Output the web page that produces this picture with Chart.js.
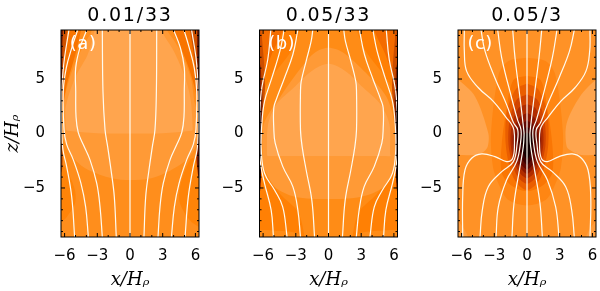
<!DOCTYPE html>
<html>
<head>
<meta charset="utf-8">
<style>
  html, body { margin: 0; padding: 0; background: #fff; }
  .panel { position: absolute; top: 0; width: 200px; height: 291px; }
</style>
<script src="https://cdn.jsdelivr.net/npm/chart.js@4"></script>
</head>
<body>
<div class="panel" style="left:0"><canvas id="chartA"></canvas></div>
<div class="panel" style="left:200px"><canvas id="chartB"></canvas></div>
<div class="panel" style="left:400px"><canvas id="chartC"></canvas></div>
<script>
const panelTitles = ['0.01/33', '0.05/33', '0.05/3'];
const panelLetters = ['(a)', '(b)', '(c)'];
const xTicks = [-6, -3, 0, 3, 6];
const zTicks = [-5, 0, 5];
const xMinorTicks = [-5, -4, -2, -1, 1, 2, 4, 5];
const zMinorTicks = [-9, -8, -7, -6, -4, -3, -2, -1, 1, 2, 3, 4, 6, 7, 8, 9];

// field lines, panel a (x and z of each line)
const aLineX = [
  [-5.08, -5.35, -5.81, -6.15, -6.27, -6.28, -6.2, -6.0, -5.6],
  [-3.82, -4.07, -4.5, -5.2, -5.81, -6.05, -6.12, -5.85, -5.3, -4.8],
  [-2.54, -2.75, -3.05, -3.67, -4.28, -4.75, -4.95, -4.98, -4.98, -4.59, -3.97],
  [-1.26, -1.44, -1.74, -2.05, -2.29, -2.48, -2.54],
  [0, 0],
  [1.28, 1.44, 1.74, 2.05, 2.29, 2.42, 2.45],
  [2.57, 2.75, 3.05, 3.67, 4.28, 4.75, 4.95, 4.98, 4.98, 4.62, 4.0],
  [3.8, 4.07, 4.5, 5.2, 5.81, 6.05, 6.12, 5.9, 5.4, 4.95],
  [5.05, 5.35, 5.81, 6.15, 6.27, 6.28, 6.22, 6.05, 5.65]
];
const aLineZ = [
  [-9.5, -5.8, -3.04, -1.5, 0.34, 3.5, 5, 7, 9.5],
  [-9.5, -6.73, -4.57, -2.42, -1.0, 0.34, 3.87, 6, 8, 9.5],
  [-9.5, -6.73, -4.57, -2.42, -1.04, 0.1, 1.5, 3.87, 6.05, 7.87, 9.5],
  [-9.5, -5.8, -3.35, -1.2, 0.34, 3.87, 9.5],
  [-9.5, 9.5],
  [-9.5, -5.8, -3.35, -1.2, 0.34, 3.87, 9.5],
  [-9.5, -6.73, -4.57, -2.42, -1.04, 0.1, 1.5, 3.87, 6.05, 7.87, 9.5],
  [-9.5, -6.73, -4.57, -2.42, -1.0, 0.34, 3.87, 6, 8, 9.5],
  [-9.5, -5.8, -3.04, -1.5, 0.34, 3.5, 5, 7, 9.5]
];

// filled contour bands, panel a, back to front (points past the frame get clipped)
const aBandX = [
  [-7, 7, 7, -7, -7],
  [-7, -6.33, -5.8, -5.05, -5.05, -5.8, -6.33, -7],
  [7, 6.33, 5.5, 4.59, 4.59, 5.5, 6.33, 7],
  [-7, -6.2, -5.05, -3.82, -1.68, 0, 1.96, 3.79, 5.32, 6.24, 7, 6.0, 5.6, 4.9, 4.0, 3.4, 3.2, -3.4, -3.5, -4.3, -5.4, -6.05, -6.1, -7],
  [-5.85, -5.9, -5.0, -3.9, -3.25, -3.2, 3, 2.9, 4.0, 5.0, 5.55, 5.75, 5.6, 3, 0, -3, -5.7, -5.85],
  [-7, -6.33, -5.75, -5.0, -4.5, -4.4, -7],
  [7, 6.33, 6.0, 5.4, 4.6, 3.9, 3.8, 7],
  [-7, -6.33, -6.15, -5.95, -5.75, -5.7, -7],
  [7, 6.33, 6.1, 5.8, 5.5, 5.4, 7],
  [-7, -6.33, -6.22, -6.2, -6.2, -7],
  [7, 6.33, 6.2, 6.15, 6.15, 6.15, 7],
  [-7, -6.33, -6.18, -6.33, -7],
  [7, 6.33, 6.1, 6.2, 6.33, 7]
];
const aBandZ = [
  [-11, -11, 11, 11, -11],
  [-2.6, -2.74, -3.35, -5.2, -6.43, -7.66, -8.12, -8.2],
  [-2.0, -2.12, -2.43, -4.89, -6.43, -7.97, -8.58, -8.7],
  [0.3, -0.5, -2.42, -3.35, -4.1, -4.27, -4.1, -3.35, -2.3, -0.9, 0, 2.6, 5.0, 7.0, 8.6, 9.5, 11, 11, 9.5, 8.0, 5.5, 3.0, 1.5, 0.3],
  [0.35, 2.4, 5.2, 7.2, 9.5, 11, 11, 9.5, 7.6, 5.3, 3.2, 0.35, 0.25, 0.03, 0, 0.03, 0.25, 0.35],
  [2, 2.2, 4.7, 7.3, 9.5, 11, 11],
  [1.8, 2, 3.9, 6.0, 8.0, 9.5, 11, 11],
  [2.5, 2.6, 4.4, 7.0, 9.5, 11, 11],
  [3, 3.2, 5.2, 7.6, 9.5, 11, 11],
  [3.5, 3.6, 6.0, 8.0, 11, 11],
  [3, 3, 5.0, 6.6, 9.5, 11, 11],
  [-0.8, -0.8, -2.2, -3.6, -3.6],
  [-0.2, -0.2, -2.0, -3.4, -4.0, -4.0]
];
const aBandFill = ['#FF8E1C', '#FF8408', '#FF8408', '#FF9A36', '#FFA54E', '#F87400', '#F87400', '#CF5200', '#CF5200', '#7C1C00', '#7C1C00', '#C24A00', '#801800'];

// panel b
const bLineX = [
  [-5.05, -5.26, -5.87, -6.24, -6.33, -6.3, -6.12, -5.57, -5.29],
  [-3.8, -4.2, -4.95, -5.87, -6.17, -6.12, -5.87, -5.2, -4.46, -4.07],
  [-2.57, -2.81, -3.27, -4.19, -4.89, -5.02, -5.02, -4.8, -4.04, -3.27, -2.81],
  [-1.28, -1.53, -2.05, -2.42, -2.57, -2.57, -2.5, -2.05, -1.59, -1.44],
  [0, 0],
  [1.28, 1.53, 2.05, 2.42, 2.57, 2.57, 2.5, 2.05, 1.55, 1.4],
  [2.55, 2.81, 3.27, 4.19, 4.89, 5.02, 5.02, 4.8, 4.04, 3.3, 2.84],
  [3.8, 4.2, 4.95, 5.87, 6.17, 6.12, 5.87, 5.2, 4.46, 4.07],
  [5.05, 5.26, 5.87, 6.24, 6.33, 6.3, 6.12, 5.57, 5.3]
];
const bLineZ = [
  [-9.5, -7.03, -4.57, -2.73, -0.89, 2, 4.2, 6.8, 9.5],
  [-9.5, -6.73, -5.19, -3.65, -1.5, 0.8, 2.95, 5.1, 7.56, 9.5],
  [-9.5, -7.03, -4.88, -3.04, -0.89, 0.5, 2.34, 3.1, 5.1, 7.25, 9.5],
  [-9.5, -6.11, -3.35, -1.2, 0.34, 3.87, 4.8, 6.65, 8.48, 9.5],
  [-9.5, 9.5],
  [-9.5, -6.11, -3.35, -1.2, 0.34, 3.87, 4.8, 6.65, 8.48, 9.5],
  [-9.5, -7.03, -4.88, -3.04, -0.89, 0.5, 2.34, 3.1, 5.1, 7.25, 9.5],
  [-9.5, -6.73, -5.19, -3.65, -1.5, 0.8, 2.95, 5.1, 7.56, 9.5],
  [-9.5, -7.03, -4.57, -2.73, -0.89, 2, 4.2, 6.8, 9.5]
];
const bBandX = [
  [-7, 7, 7, -7, -7],
  [-2.6, 2.6, 2.6, 3.4, 5.2, 6.33, 7, 7, 6.33, 5.9, 4.4, 2.8, 2.2, 2.2, -2.2, -2.2, -2.8, -4.4, -5.9, -6.33, -7, -7, -6.33, -5.2, -3.4, -2.6, -2.6],
  [-7, -5, -3, -2.3, -2.3, -7],
  [7, 5, 3, 2.3, 2.3, 7],
  [-6.0, -4.95, -3.1, 0, 3, 5.1, 6.05, 6.05, 5.3, 3.4, 1.4, 0, -1.3, -2.5, -4.4, -5.95, -6.0],
  [-5.6, -5.0, 0, 5.0, 5.7, 5.65, 5.6, 4.8, 3.2, 1.6, 0, -1.6, -3.2, -4.8, -5.55, -5.65, -5.6],
  [-7, -6.33, -5.9, -5.2, -4.2, -4.1, -7],
  [7, 6.33, 5.9, 5.2, 4.2, 4.1, 7],
  [-7, -6.33, -6.15, -5.85, -5.85, -5.95, -6.15, -6.15, -7],
  [7, 6.33, 6.15, 5.85, 5.85, 5.95, 6.15, 6.15, 7],
  [-7, -6.33, -6.2, -6.18, -6.05, -6.15, -6.33, -7],
  [7, 6.33, 6.2, 6.18, 6.05, 6.15, 6.33, 7],
  [-7, -6.33, -6.2, -6.18, -6.2, -6.33, -7],
  [7, 6.33, 6.2, 6.18, 6.2, 6.33, 7]
];
const bBandZ = [
  [-11, -11, 11, 11, -11],
  [11, 11, 9.5, 7.6, 5.2, 3.2, 1, -1, -2.6, -3.6, -5.6, -7.2, -9.5, -11, -11, -9.5, -7.2, -5.6, -3.6, -2.6, -1, 1, 3.2, 5.2, 7.6, 9.5, 11],
  [-8.8, -8.9, -9.1, -9.6, -11, -11],
  [-8.8, -8.9, -9.1, -9.6, -11, -11],
  [-3.04, -4.88, -5.8, -6.02, -5.8, -4.88, -3.04, 0.8, 3.4, 5.6, 7.4, 7.87, 7.4, 6.05, 3.4, 0.8, -3.04],
  [-2.06, -2.06, -2.06, -2.06, -2.06, -1.9, 0.8, 2.65, 4.2, 5.7, 6.4, 5.7, 4.2, 2.65, 0.8, -1.9, -2.06],
  [3.2, 3.4, 5.2, 7.3, 9.5, 11, 11],
  [3.2, 3.4, 5.2, 7.3, 9.5, 11, 11],
  [0.7, 0.8, 1.6, 3.6, 5.5, 7, 9.5, 11, 11],
  [0.7, 0.8, 1.6, 3.6, 5.5, 7, 9.5, 11, 11],
  [-5.5, -5.5, -3, -0.6, 2.6, 4.8, 6.5, 6.5],
  [-5.5, -5.5, -3, -0.6, 2.6, 4.8, 6.5, 6.5],
  [-4.8, -4.8, -2.2, 0.2, 2.2, 3, 3],
  [-4.8, -4.8, -2.2, 0.2, 2.2, 3, 3]
];
const bBandFill = ['#FF8004', '#FF8C16', '#FF8C16', '#FF8C16', '#FF9A36', '#FFA54E', '#F46C00', '#F46C00', '#CC4E00', '#CC4E00', '#7C1C00', '#7C1C00', '#1C0000', '#1C0000'];

// panel c
const cLineX = [
  [-5.9, -5.9, -5.69, -5.08, -4.16, -2.94, -1.87, -1.31, -1.15, -1.2, -1.45, -1.87, -3.09, -4.46, -5.53, -5.75, -5.75],
  [-4.31, -4.1, -3.55, -2.32, -1.25, -0.9, -0.85, -1.25, -1.87, -2.94, -3.85, -4.22],
  [-2.84, -2.63, -1.87, -0.95, -0.6, -0.55, -0.85, -1.41, -2.32, -2.69],
  [-1.38, -1.19, -0.64, -0.34, -0.27, -0.3, -0.64, -1.1, -1.31],
  [0, 0],
  [1.41, 1.19, 0.64, 0.34, 0.27, 0.3, 0.64, 1.1, 1.35],
  [2.94, 2.63, 1.87, 0.95, 0.6, 0.55, 0.85, 1.41, 2.32, 2.75],
  [4.34, 4.1, 3.55, 2.32, 1.25, 0.9, 0.85, 1.25, 1.87, 2.94, 3.9, 4.34],
  [5.78, 5.85, 5.6, 5.0, 4.16, 2.94, 1.87, 1.31, 1.15, 1.2, 1.45, 1.87, 3.09, 4.4, 5.4, 5.75, 5.78]
];
const cLineZ = [
  [-9.5, -5.81, -3.35, -2.27, -1.87, -2.12, -2.58, -2.27, -0.89, 0.34, 0.9, 1.42, 2.95, 4.2, 5.7, 7.56, 9.5],
  [-9.5, -7.03, -4.88, -3.5, -2.58, -0.89, 0.34, 1, 2.65, 5.1, 7.56, 9.5],
  [-9.5, -6.73, -4.27, -2.58, -0.89, 0.34, 1.2, 3.26, 6.95, 9.5],
  [-9.5, -6.4, -3.04, -1.2, -0.12, 0.34, 3.26, 6.95, 9.5],
  [-9.5, 9.5],
  [-9.5, -6.4, -3.04, -1.2, -0.12, 0.34, 3.26, 6.95, 9.5],
  [-9.5, -6.73, -4.27, -2.58, -0.89, 0.34, 1.2, 3.26, 6.95, 9.5],
  [-9.5, -7.03, -4.88, -3.5, -2.58, -0.89, 0.34, 1, 2.65, 5.1, 7.56, 9.5],
  [-9.5, -5.81, -3.35, -2.27, -1.87, -2.12, -2.58, -2.27, -0.89, 0.34, 0.9, 1.42, 2.95, 4.2, 5.7, 7.56, 9.5]
];
const cBandX = [
  [-7, 7, 7, -7, -7],
  [-7, -6.33, -5.4, -5.3, -7],
  [7, 6.33, 5.4, 5.3, 7],
  [-7, -6.33, -4.77, -3.55, -3.6, -4.0, -4.77, -7],
  [7, 6.33, 4.86, 3.64, 3.64, 4.25, 5, 7],
  [0, -1.7, -2.6, -3.3, -3.1, -2.48, -1.7, 0, 1.7, 2.48, 3.1, 3.3, 2.6, 1.7, 0],
  [0, -1.25, -1.87, -2.32, -2.32, -1.4, 0, 1.4, 2.32, 2.32, 1.87, 1.25, 0],
  [0, -1.0, -1.85, -1.95, -1.5, -0.9, 0, 0.9, 1.5, 1.95, 1.85, 1.0, 0],
  [0, -0.95, -1.6, -1.7, -1.25, -0.75, 0, 0.75, 1.25, 1.7, 1.6, 0.95, 0],
  [0, -0.8, -1.4, -1.5, -1.1, -0.6, 0, 0.6, 1.1, 1.5, 1.4, 0.8, 0],
  [0, -0.65, -1.2, -1.3, -0.95, -0.5, 0, 0.5, 0.95, 1.3, 1.2, 0.65, 0],
  [0, -0.5, -0.95, -1.05, -0.75, -0.4, 0, 0.4, 0.75, 1.05, 0.95, 0.5, 0],
  [0, -0.4, -0.68, -0.72, -0.5, -0.28, 0, 0.28, 0.5, 0.72, 0.68, 0.4, 0],
  [0, -0.25, -0.45, -0.45, -0.3, 0, 0.3, 0.45, 0.45, 0.25, 0]
];
const cBandZ = [
  [-11, -11, 11, 11, -11],
  [-7.8, -8, -9.5, -11, -11],
  [-7.8, -8, -9.5, -11, -11],
  [5.3, 4.95, 3.4, 0.03, -1.2, -1.7, -1.97, -1.97],
  [5.3, 4.95, 3.4, 0.95, -1.2, -1.7, -1.97, -1.97],
  [6.95, 6.65, 5.4, 0, -3.2, -4.9, -6.1, -6.6, -6.1, -4.9, -3.2, 0, 5.4, 6.65, 6.95],
  [5.3, 4.9, 2.3, -1.0, -3.6, -4.8, -5.3, -4.8, -3.6, -1.0, 2.3, 4.9, 5.3],
  [4.6, 4.1, 2.0, -1.0, -3.4, -4.6, -5.2, -4.6, -3.4, -1.0, 2.0, 4.1, 4.6],
  [3.6, 3.1, 1.2, -1.0, -3.1, -4.1, -4.6, -4.1, -3.1, -1.0, 1.2, 3.1, 3.6],
  [2.7, 2.3, 0.8, -1.0, -2.8, -3.7, -4.1, -3.7, -2.8, -1.0, 0.8, 2.3, 2.7],
  [1.9, 1.5, 0.4, -1.0, -2.6, -3.3, -3.7, -3.3, -2.6, -1.0, 0.4, 1.5, 1.9],
  [1.2, 0.9, 0.1, -1.0, -2.4, -3.0, -3.3, -3.0, -2.4, -1.0, 0.1, 0.9, 1.2],
  [0.6, 0.35, -0.25, -1.0, -2.1, -2.6, -2.9, -2.6, -2.1, -1.0, -0.25, 0.35, 0.6],
  [0.1, -0.05, -0.4, -1.0, -1.8, -2.4, -1.8, -1.0, -0.4, -0.05, 0.1]
];
const cBandFill = ['#FF9226', '#FF9C3A', '#FF9C3A', '#FFA54E', '#FFA54E', '#FF8613', '#FA7604', '#EA5E00', '#D24400', '#B02C00', '#8A1600', '#600800', '#380000', '#120000'];

const xRange = [-6.33, 6.33];
const zRange = [-9.5, 9.5];
const panelLeft = [61, 59.5, 58];
const panelWidth = 138;

function toPoints(xs, zs) {
  return xs.map((x, i) => ({ x: x, y: zs[i] }));
}

const panelDecor = {
  id: 'panelDecor',
  afterDraw(chart, args, opts) {
    const ctx = chart.ctx;
    const xScale = chart.scales.x;
    const yScale = chart.scales.y;
    const area = chart.chartArea;
    ctx.save();
    ctx.strokeStyle = '#000';
    ctx.lineWidth = 1;
    ctx.strokeRect(area.left, area.top, area.right - area.left, area.bottom - area.top);

    const tick = (x1, y1, x2, y2) => {
      ctx.beginPath();
      ctx.moveTo(x1, y1);
      ctx.lineTo(x2, y2);
      ctx.stroke();
    };
    const xMarks = [[xTicks, 4], [xMinorTicks, 2]];
    const zMarks = [[zTicks, 4], [zMinorTicks, 2]];
    xMarks.forEach(([vals, len]) => vals.forEach((v) => {
      const px = xScale.getPixelForValue(v);
      tick(px, area.bottom, px, area.bottom - len);
      tick(px, area.top, px, area.top + len);
    }));
    zMarks.forEach(([vals, len]) => vals.forEach((v) => {
      const py = yScale.getPixelForValue(v);
      tick(area.left, py, area.left + len, py);
      tick(area.right, py, area.right - len, py);
    }));

    ctx.fillStyle = '#000';
    ctx.textAlign = 'center';
    ctx.textBaseline = 'alphabetic';
    ctx.font = '19px "DejaVu Sans"';
    ctx.letterSpacing = '1.8px';
    ctx.fillText(opts.title, (area.left + area.right) / 2, 21);

    ctx.fillStyle = '#fff';
    ctx.font = '18px "DejaVu Sans"';
    ctx.letterSpacing = '0.5px';
    ctx.fillText(opts.letter, xScale.getPixelForValue(-4.3), yScale.getPixelForValue(7.75));
    ctx.restore();
  }
};

function drawPanel(canvasId, index, lineX, lineZ, bandX, bandZ, bandFill) {
  const datasets = [];
  lineX.forEach((xs, i) => {
    datasets.push({
      data: toPoints(xs, lineZ[i]),
      showLine: true,
      borderColor: '#FFFBF0',
      borderWidth: 1.2,
      pointRadius: 0,
      tension: 0.4,
      fill: false,
      order: 0
    });
  });
  bandX.forEach((xs, i) => {
    datasets.push({
      data: toPoints(xs, bandZ[i]),
      showLine: true,
      borderWidth: 0,
      borderColor: 'transparent',
      backgroundColor: bandFill[i],
      pointRadius: 0,
      tension: i === 0 ? 0 : 0.3,
      fill: 'shape',
      order: bandX.length - i
    });
  });

  new Chart(document.getElementById(canvasId), {
    type: 'scatter',
    data: { datasets: datasets },
    plugins: [panelDecor],
    options: {
      responsive: true,
      maintainAspectRatio: false,
      animation: false,
      events: [],
      layout: { padding: { top: 30, right: 200 - panelLeft[index] - panelWidth, left: 0, bottom: 0 } },
      plugins: {
        legend: { display: false },
        tooltip: { enabled: false },
        panelDecor: { title: panelTitles[index], letter: panelLetters[index] }
      },
      scales: {
        x: {
          type: 'linear',
          min: xRange[0],
          max: xRange[1],
          grid: { display: false },
          border: { display: false },
          afterBuildTicks: (scale) => { scale.ticks = xTicks.map((v) => ({ value: v })); },
          afterFit: (scale) => { scale.height = 54; scale.paddingLeft = 0; scale.paddingRight = 0; },
          ticks: {
            autoSkip: false,
            maxRotation: 0,
            padding: 2,
            color: '#000',
            font: { family: 'DejaVu Sans', size: 15 },
            callback: (v) => String(v).replace('-', '\u2212')
          },
          title: {
            display: true,
            text: 'x/H\u1D68',
            color: '#000',
            font: { family: 'DejaVu Serif', style: 'italic', size: 18 },
            padding: { top: 0, bottom: 0 }
          }
        },
        y: {
          type: 'linear',
          min: zRange[0],
          max: zRange[1],
          grid: { display: false },
          border: { display: false },
          afterBuildTicks: (scale) => { scale.ticks = zTicks.map((v) => ({ value: v })); },
          afterFit: (scale) => { scale.width = panelLeft[index]; scale.paddingTop = 0; scale.paddingBottom = 0; },
          ticks: {
            autoSkip: false,
            padding: 8,
            color: '#000',
            font: { family: 'DejaVu Sans', size: 15 },
            callback: (v) => String(v).replace('-', '\u2212')
          },
          title: {
            display: index === 0,
            text: 'z/H\u1D68',
            color: '#000',
            font: { family: 'DejaVu Serif', style: 'italic', size: 18 },
            padding: { top: 3, bottom: 0 }
          }
        }
      }
    }
  });
}

drawPanel('chartA', 0, aLineX, aLineZ, aBandX, aBandZ, aBandFill);
drawPanel('chartB', 1, bLineX, bLineZ, bBandX, bBandZ, bBandFill);
drawPanel('chartC', 2, cLineX, cLineZ, cBandX, cBandZ, cBandFill);
</script>
</body>
</html>
